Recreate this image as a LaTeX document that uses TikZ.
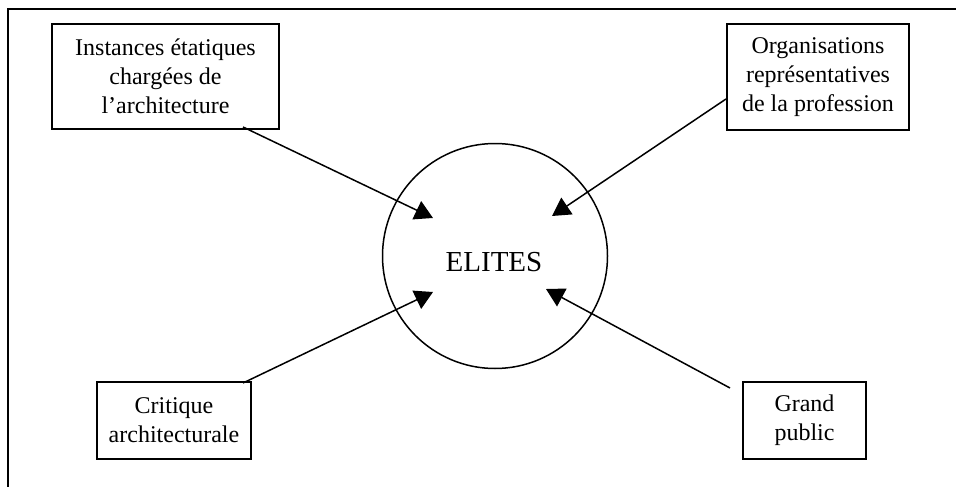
\documentclass[tikz,border=0pt]{standalone}
\usepackage{fontspec}
\setmainfont{Liberation Serif}
\usetikzlibrary{arrows.meta}
\begin{document}
\begin{tikzpicture}[x=1pt,y=-1pt,
  box/.style={draw,line width=1.6pt,align=center,inner sep=0pt,font=\fontsize{24}{29}\selectfont},
  arr/.style={line width=1.5pt,-{Triangle[length=18pt,width=20pt]}}]
\useasboundingbox (0,0) rectangle (956,487);
\draw[line width=1.3pt] (8,487) -- (8,9) -- (956,9);
\node[box,minimum width=227pt,minimum height=105pt] (b1) at (165.5,76.5) {Instances étatiques\\chargées de\\l’architecture};
\node[box,minimum width=182pt,minimum height=106pt] (b2) at (818,77) {Organisations\\représentatives\\de la profession};
\node[box,minimum width=154pt,minimum height=77pt] (b3) at (174,420.5) {Critique\\architecturale};
\node[box,minimum width=123pt,minimum height=77pt] (b4) at (804.5,420.5) {Grand\\public};
\node[draw,circle,line width=1.5pt,minimum size=225pt,inner sep=0pt] (c) at (495,256) {};
\node[font=\fontsize{29}{35}\selectfont] (el) at (494,262) {ELITES};
\coordinate (s1) at (243,127);
\coordinate (s2) at (726,99);
\coordinate (s3) at (243,383);
\coordinate (s4) at (730,388);
\coordinate (t1) at (433,218);
\coordinate (t2) at (552,216);
\coordinate (t3) at (433,292);
\coordinate (t4) at (546,289);
\draw[arr] (s1) -- (t1);
\draw[arr] (s2) -- (t2);
\draw[arr] (s3) -- (t3);
\draw[arr] (s4) -- (t4);
\end{tikzpicture}
\end{document}
